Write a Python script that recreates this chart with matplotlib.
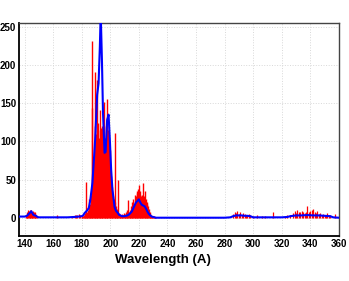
import numpy as np
import matplotlib
matplotlib.use("Agg")
import matplotlib.pyplot as plt

plt.rcParams["font.family"] = ["Liberation Sans", "DejaVu Sans"]

# red line spectrum, main band 180-232 A at 0.5 A steps
main_w = np.arange(180.0, 232.25, 0.5)
main_i = [2, 3, 2, 4, 3, 6, 47, 8, 6, 10,
          25, 12, 18, 30, 232, 144, 60, 80, 120, 191,
          110, 180, 115, 124, 105, 141, 115, 118, 120, 110,
          100, 152, 98, 105, 120, 156, 130, 115, 100, 89,
          70, 55, 40, 35, 28, 25, 111, 20, 15, 12,
          10, 50, 6, 5, 4, 3, 5, 3, 4, 6,
          3, 5, 8, 6, 10, 23, 8, 6, 10, 15,
          12, 20, 25, 18, 22, 30, 28, 35, 32, 38,
          43, 30, 35, 28, 30, 25, 45, 28, 35, 22,
          25, 18, 20, 15, 12, 8, 5, 3, 2, 1,
          1, 2, 1, 1, 0]

# red sparse lines outside the main band
side_w = [141, 141.5, 142, 142.5, 143, 143.5, 144, 144.5, 145, 145.5,
          146, 146.5, 147, 147.5, 148, 148.5, 162.5, 173, 175, 176,
          177, 178, 179,
          286, 287, 288, 289, 290, 291, 292, 293, 294, 295, 296, 297, 298,
          300, 303, 306, 308, 314, 322, 324, 326, 328, 329, 330, 331, 332,
          333, 334, 335, 336, 337, 338, 339, 340, 341, 342, 343, 344, 345,
          346, 347, 348, 349, 350, 351, 352, 353, 354, 357]
side_i = [4, 6, 8, 10, 9, 10, 7, 10, 6, 8,
          9, 7, 6, 8, 4, 2, 3, 2, 3, 4,
          3, 5, 3,
          5, 8, 6, 9, 5, 7, 4, 6, 5, 3, 4, 5, 3,
          2, 3, 2, 2, 7, 2, 3, 4, 6, 9, 6, 10, 7,
          8, 9, 8, 6, 7, 15, 7, 9, 10, 11, 8, 6, 9,
          5, 6, 4, 5, 4, 3, 6, 4, 3, 5]

# blue smoothed spectrum
blue_w = [136, 140, 141, 142, 143, 144, 144.7, 145.5, 146, 147, 148, 149, 150,
          160, 170, 175, 178, 180, 181, 182, 183, 184, 185, 186, 187, 187.5,
          188.5, 189.4, 190.8, 191.8, 192.7, 193.3, 194.2, 194.9, 196, 196.7,
          197.8, 198.8, 199.7, 200.6, 201.5, 203, 204, 205.4, 206, 207,
          208, 210, 212, 213, 214, 215, 216, 217, 218, 219, 220, 221, 222,
          223, 224, 225, 226, 227, 228, 229, 230, 232, 240, 280, 284, 286,
          288, 290, 292, 294, 296, 298, 300, 320, 324, 326, 330, 334, 338,
          342, 346, 350, 354, 356, 360]
blue_v = [1.5, 1.5, 2, 3, 5, 7, 8.5, 6, 4, 3, 2.5, 1, 0.5,
          0.5, 0.5, 1, 1.5, 2, 3, 6, 8, 10, 13, 23, 38, 46,
          75, 102, 161, 176, 224, 268, 203, 137, 85, 86,
          128, 135, 102, 63, 37, 14, 9, 6, 4, 3,
          2, 2, 3, 4, 6, 8, 12, 16, 20, 22, 24, 20, 17,
          16, 15, 12, 8, 5, 3, 1.5, 1, 0, 0, 0, 0.5, 2,
          3, 3, 3, 2.5, 2.5, 2, 0.5, 0.5, 1, 2, 3, 3, 3.5,
          3, 3, 2.5, 2, 0.5, 0]

fig = plt.figure(figsize=(3.49, 2.81), dpi=100)
ax = fig.add_axes([0.054, 0.160, 0.917, 0.758])

ax.vlines(main_w, 0, main_i, color="red", linewidth=1.0, zorder=2)
ax.vlines(side_w, 0, side_i, color="red", linewidth=0.9, zorder=2)
ax.plot(blue_w, blue_v, color="blue", linewidth=1.5, zorder=3)

ax.set_xlim(136, 360)
ax.set_ylim(-24, 255)
ax.set_xticks(range(140, 361, 20))
ax.set_yticks(range(0, 251, 50))
ax.grid(True, color="#d8d8d8", linestyle=":", linewidth=0.7, zorder=0)
ax.set_axisbelow(True)

for s in ["left", "bottom"]:
    ax.spines[s].set_linewidth(1.3)
    ax.spines[s].set_color("black")
for s in ["top", "right"]:
    ax.spines[s].set_linewidth(1.0)
    ax.spines[s].set_color("#444444")

ax.tick_params(axis="both", labelsize=7, length=0, pad=2)
for lab in ax.get_xticklabels() + ax.get_yticklabels():
    lab.set_fontweight("bold")
ax.set_xlabel("Wavelength (A)", fontsize=9.5, fontweight="bold")
ax.xaxis.set_label_coords(0.45, -0.085)

fig.savefig("out.png", dpi=100)
